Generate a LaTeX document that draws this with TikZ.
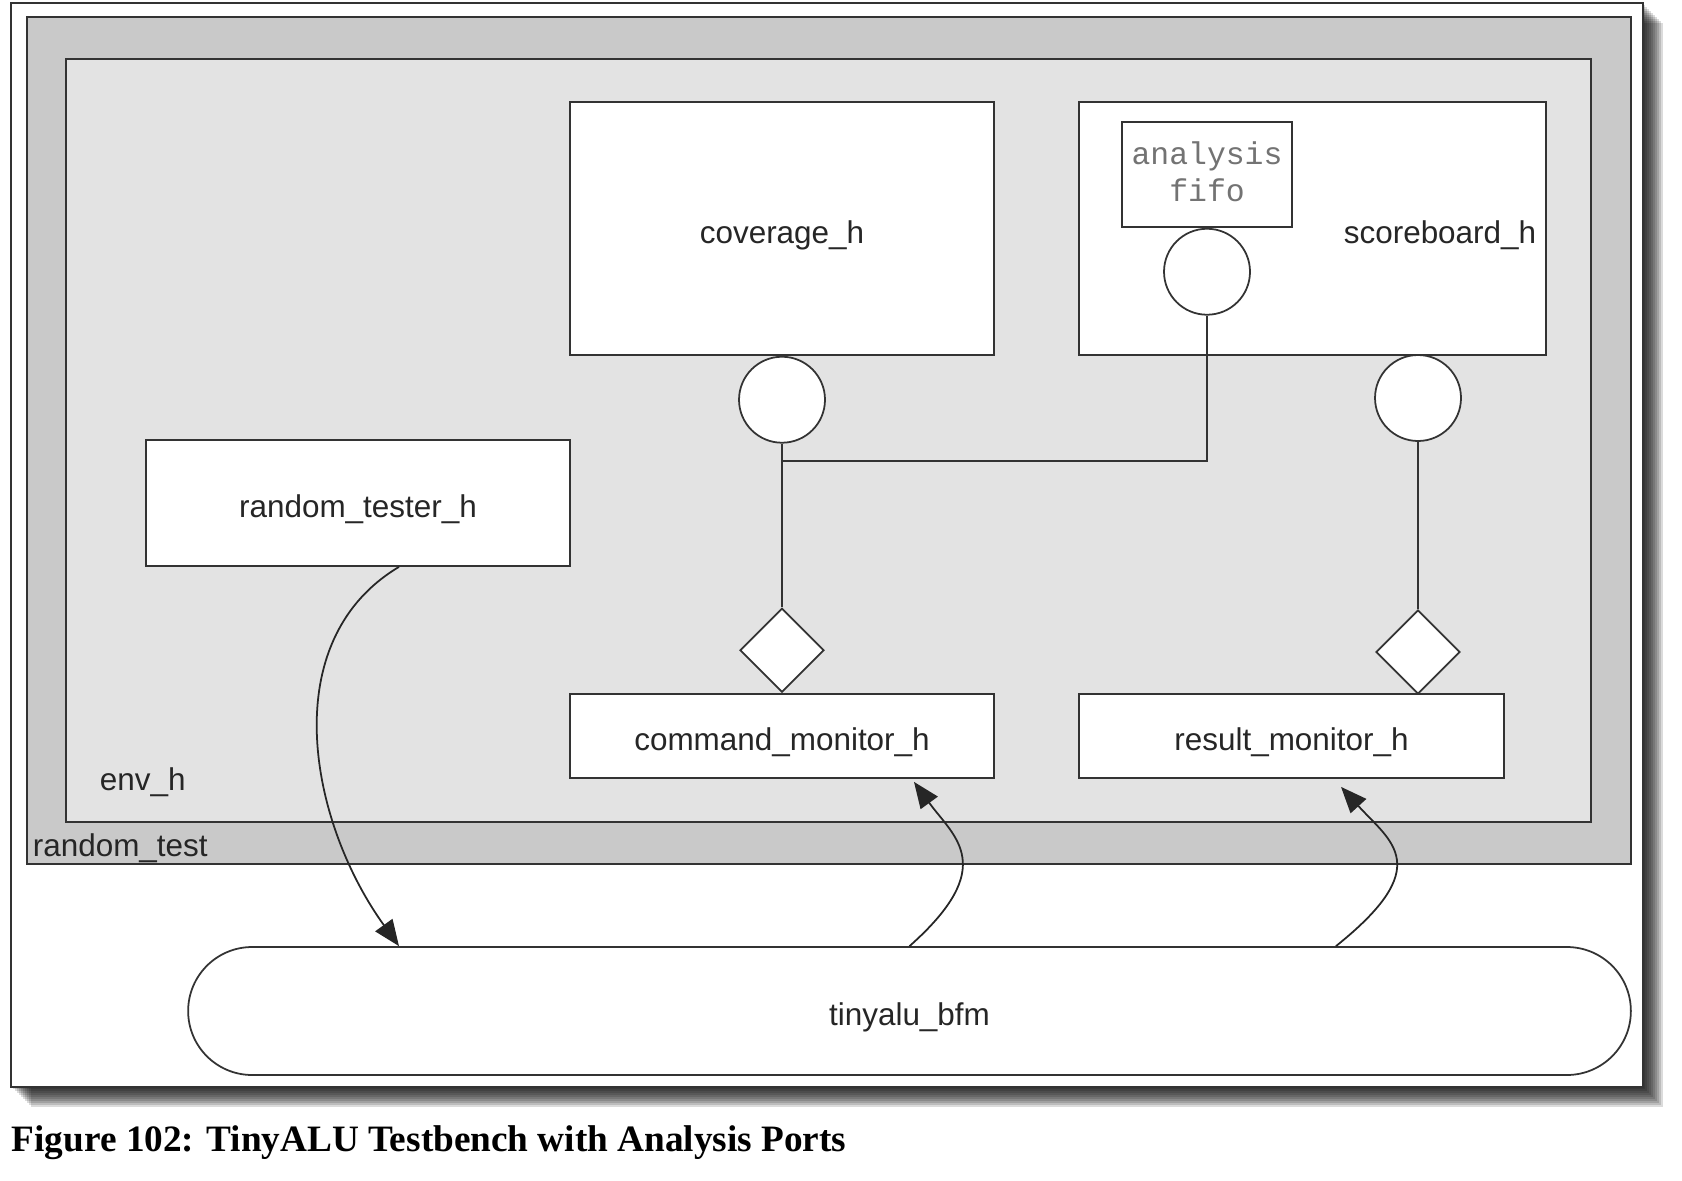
\documentclass[tikz,border=0pt]{standalone}
\usepackage{fontspec}
\setmainfont{Liberation Sans}
\setmonofont{Liberation Mono}
\newfontfamily\capfont{Liberation Serif}
\usetikzlibrary{shapes,shapes.geometric,arrows,arrows.meta,calc,positioning}
\definecolor{testgray}{gray}{0.79}
\definecolor{envgray}{gray}{0.89}
\tikzset{box/.style={draw=black!80, fill=white, line width=1pt, inner sep=0pt},
comp/.style={box, font=\fontsize{17.9}{21}\selectfont, text=black!85, text height=0.58cm, text depth=0cm},
port/.style={circle, draw=black!80, fill=white, line width=1pt, minimum size=1.72cm, inner sep=0pt},
expt/.style={diamond, draw=black!80, fill=white, line width=1pt, minimum size=1.68cm, inner sep=0pt},
lbl/.style={font=\fontsize{17.9}{21}\selectfont, text=black!85, inner sep=0pt}}

\begin{document}
\begin{tikzpicture}[x=0.02cm, y=-0.02cm, >={Triangle[length=0.52cm,width=0.42cm]}, line width=1pt]
\useasboundingbox (0,0) rectangle (1682,1180);
\foreach \d in {2,4,...,20} \fill[black, opacity=0.14] (11+\d,3+\d) rectangle (1643+\d,1087+\d);
\draw[fill=white, draw=black!80] (11,3) rectangle (1643,1087);
\draw[fill=testgray, draw=black!80] (27,17) rectangle (1631,864);
\draw[fill=envgray, draw=black!80] (66,59) rectangle (1591,822);

\node[comp, minimum width=8.48cm, minimum height=5.06cm] (cov) at (782,228.5) {coverage\_h};
\node[comp, minimum width=9.34cm, minimum height=5.06cm] (sb) at (1312.5,228.5) {};
\node[lbl, anchor=base] (sblbl) at (1440,243) {scoreboard\_h};
\node[box, minimum width=3.4cm, minimum height=2.1cm, font=\ttfamily\fontsize{17.9}{21}\selectfont, text=black!55, align=center, text depth=0.13cm] (fifo) at (1207,174.5) {analysis\\fifo};
\node[port, below=0pt of fifo] (fifoc) {};
\node[port, below=0pt of cov] (covc) {};
\node[port] (sbc) at (1418,398) {};
\node[comp, minimum width=8.48cm, minimum height=2.52cm] (rt) at (358,503) {random\_tester\_h};
\node[comp, minimum width=8.48cm, minimum height=1.68cm] (cm) at (782,736) {command\_monitor\_h};
\node[comp, minimum width=8.5cm, minimum height=1.68cm] (rm) at (1291.5,736) {result\_monitor\_h};
\node[expt, above=0pt of cm] (cmd) {};
\node[expt] (rmd) at (1418,652) {};
\node[comp, rounded corners=1.28cm, minimum width=28.86cm, minimum height=2.56cm] (bfm) at (909.5,1011) {tinyalu\_bfm};
\node[lbl, anchor=west] (envlbl) at (99,782) {env\_h};
\node[lbl, anchor=west] (testlbl) at (32,848) {random\_test};
\node[anchor=base west, inner sep=0pt, font=\capfont\bfseries\fontsize{21.2}{25}\selectfont] (cap) at (11,1151) {Figure 102: TinyALU Testbench with Analysis Ports};

\draw[black!80] (covc) -- (cmd);
\coordinate (junc) at (782,461);
\draw[black!80] (junc) -| (fifoc.south);
\draw[black!80] (sbc) -- (rmd);

\coordinate (rtout) at ([xshift=0.82cm]rt.south);
\coordinate (cmin) at ([xshift=2.64cm,yshift=-0.06cm]cm.south);
\coordinate (rmin) at ([xshift=0.99cm,yshift=-0.16cm]rm.south);
\coordinate (bfmout) at ([xshift=8.53cm]bfm.north);
\draw[->, black!85] (rtout) .. controls +(-124,74) and +(-90,-125) .. (rtout |- bfm.north);
\draw[->, black!85] (bfm.north) .. controls +(90,-80) and +(40,55) .. (cmin);
\draw[->, black!85] (bfmout) .. controls +(100,-80) and +(50,55) .. (rmin);
\end{tikzpicture}
\end{document}
